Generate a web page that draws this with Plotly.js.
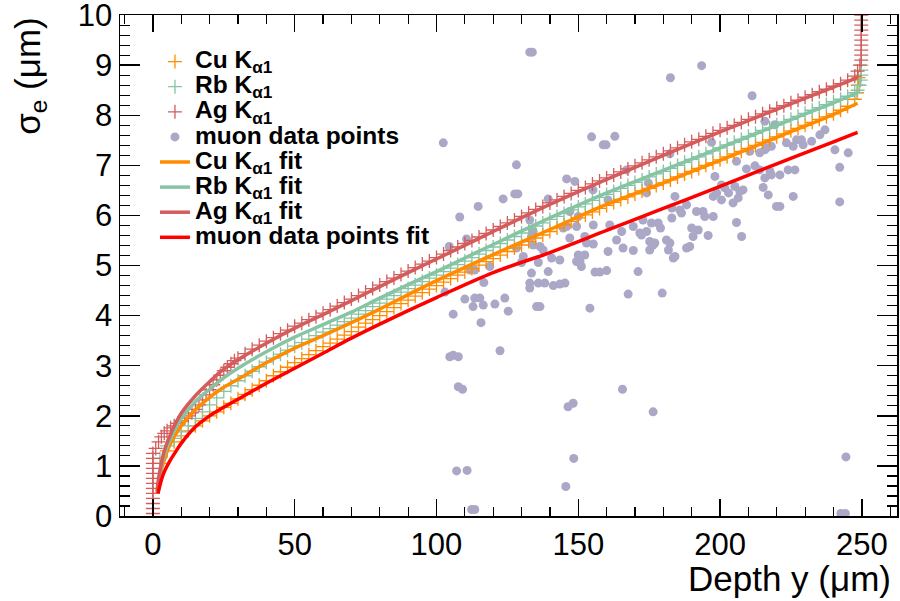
<!DOCTYPE html>
<html>
<head>
<meta charset="utf-8">
<script src="https://cdn.plot.ly/plotly-3.0.1.min.js"></script>
<style>html,body{margin:0;padding:0;background:#fff;}#chart{width:900px;height:601px;}</style>
</head>
<body>
<div id="chart"></div>
<script>
// ---- Simulation markers (depth in µm, sigma_e in µm) ----
const cuX = [2.5,5,7.5,10,12.5,15,17.5,20,22.5,25,27.5,30,32.5,35,37.5,40,42.5,45,47.5,50,52.5,55,57.5,60,62.5,65,67.5,70,72.5,75,77.5,80,82.5,85,87.5,90,92.5,95,97.5,100,102.5,105,107.5,110,112.5,115,117.5,120,122.5,125,127.5,130,132.5,135,137.5,140,142.5,145,147.5,150,152.5,155,157.5,160,162.5,165,167.5,170,172.5,175,177.5,180,182.5,185,187.5,190,192.5,195,197.5,200,202.5,205,207.5,210,212.5,215,217.5,220,222.5,225,227.5,230,232.5,235,237.5,240,242.5,245,247.5,248.3,248.6,248.8];
const cuY = [1.05,1.3,1.48,1.6,1.7,1.8,1.9,2.0,2.08,2.17,2.25,2.34,2.43,2.52,2.61,2.7,2.8,2.88,2.97,3.06,3.14,3.22,3.3,3.38,3.45,3.53,3.61,3.68,3.77,3.85,3.92,4.0,4.08,4.16,4.24,4.31,4.39,4.46,4.53,4.6,4.67,4.74,4.81,4.87,4.94,5.01,5.08,5.14,5.21,5.28,5.35,5.41,5.48,5.55,5.61,5.68,5.75,5.82,5.88,5.95,6.01,6.07,6.14,6.2,6.26,6.32,6.37,6.43,6.49,6.54,6.6,6.65,6.71,6.77,6.83,6.88,6.94,7.0,7.05,7.11,7.17,7.23,7.28,7.34,7.4,7.46,7.51,7.57,7.63,7.69,7.74,7.8,7.86,7.92,7.97,8.03,8.1,8.18,8.32,8.45,8.6,8.75];

const rbX = [2.5,5,7.5,10,12.5,15,17.5,20,22.5,25,27.5,30,32.5,35,37.5,40,42.5,45,47.5,50,52.5,55,57.5,60,62.5,65,67.5,70,72.5,75,77.5,80,82.5,85,87.5,90,92.5,95,97.5,100,102.5,105,107.5,110,112.5,115,117.5,120,122.5,125,127.5,130,132.5,135,137.5,140,142.5,145,147.5,150,152.5,155,157.5,160,162.5,165,167.5,170,172.5,175,177.5,180,182.5,185,187.5,190,192.5,195,197.5,200,202.5,205,207.5,210,212.5,215,217.5,220,222.5,225,227.5,230,232.5,235,237.5,240,242.5,245,247.5,248.5,249.2,249.6,249.8,249.8,249.8];
const rbY = [1.15,1.4,1.55,1.68,1.8,1.95,2.08,2.22,2.36,2.49,2.6,2.7,2.8,2.89,2.98,3.07,3.15,3.23,3.31,3.39,3.46,3.53,3.6,3.67,3.74,3.81,3.88,3.95,4.03,4.1,4.18,4.25,4.33,4.4,4.47,4.54,4.61,4.68,4.75,4.81,4.88,4.95,5.02,5.09,5.16,5.23,5.3,5.37,5.44,5.51,5.58,5.65,5.72,5.79,5.85,5.92,5.98,6.04,6.11,6.17,6.23,6.3,6.36,6.42,6.48,6.54,6.6,6.66,6.71,6.77,6.83,6.88,6.94,7.0,7.06,7.12,7.17,7.23,7.29,7.35,7.41,7.46,7.52,7.58,7.64,7.7,7.75,7.81,7.87,7.92,7.98,8.04,8.1,8.15,8.21,8.27,8.32,8.38,8.45,8.5,8.6,8.7,8.8,8.9,9.0];

const agX = [0,0,0,0,0,0,0,0,0,0,0,0,0,1,2,3,4,5,6.25,7.5,8.75,10,11.25,12.5,13.75,15,16.25,17.5,18.75,20,21.25,22.5,23.75,25,26.25,27.5,28.75,30,32.5,35,37.5,40,42.5,45,47.5,50,52.5,55,57.5,60,62.5,65,67.5,70,72.5,75,77.5,80,82.5,85,87.5,90,92.5,95,97.5,100,102.5,105,107.5,110,112.5,115,117.5,120,122.5,125,127.5,130,132.5,135,137.5,140,142.5,145,147.5,150,152.5,155,157.5,160,162.5,165,167.5,170,172.5,175,177.5,180,182.5,185,187.5,190,192.5,195,197.5,200,202.5,205,207.5,210,212.5,215,217.5,220,222.5,225,227.5,230,232.5,235,237.5,240,242.5,245,247.5,248.5,249.3,249.8,249.8,249.8,249.8,249.8,249.8,249.8,249.8,249.8,249.8];
const agY = [0.05,0.15,0.25,0.35,0.45,0.55,0.65,0.75,0.85,0.95,1.05,1.15,1.25,1.35,1.48,1.58,1.65,1.7,1.76,1.8,1.85,1.9,1.95,2.0,2.06,2.13,2.22,2.32,2.42,2.52,2.62,2.72,2.81,2.9,2.97,3.04,3.1,3.15,3.24,3.33,3.41,3.49,3.56,3.64,3.71,3.79,3.85,3.92,3.98,4.05,4.12,4.19,4.26,4.33,4.4,4.47,4.54,4.61,4.68,4.75,4.82,4.89,4.96,5.03,5.09,5.16,5.23,5.3,5.37,5.44,5.5,5.57,5.64,5.71,5.78,5.85,5.91,5.98,6.05,6.12,6.18,6.25,6.31,6.38,6.44,6.5,6.56,6.63,6.69,6.75,6.81,6.87,6.93,6.99,7.05,7.11,7.17,7.23,7.29,7.35,7.41,7.47,7.52,7.58,7.64,7.7,7.75,7.8,7.86,7.92,7.97,8.03,8.08,8.14,8.19,8.25,8.3,8.36,8.41,8.47,8.52,8.58,8.63,8.7,8.78,8.88,9.0,9.1,9.2,9.3,9.4,9.5,9.6,9.7,9.8,9.9,10.0];

// ---- Fit curves ----
const cuFitX = [1.5,2,3,4,6,8,10,15,20,25,30,40,50,60,70,80,90,100,120,140,160,180,200,220,240,248.5];
const cuFitY = [0.45,0.65,0.92,1.12,1.42,1.63,1.8,2.12,2.37,2.57,2.73,3.06,3.35,3.6,3.86,4.13,4.42,4.7,5.22,5.72,6.22,6.65,7.1,7.56,8.02,8.24];
const rbFitX = [1.5,2,3,4,6,8,10,15,20,25,30,40,50,60,70,80,90,100,120,140,160,180,200,220,240,248.5];
const rbFitY = [0.48,0.7,1.0,1.22,1.52,1.75,1.94,2.28,2.53,2.76,2.95,3.28,3.57,3.82,4.07,4.35,4.62,4.88,5.42,5.95,6.45,6.9,7.35,7.8,8.25,8.45];
const agFitX = [1.5,2,3,4,6,8,10,15,20,25,30,40,50,60,70,80,90,100,120,140,160,180,200,220,240,248.5];
const agFitY = [0.5,0.75,1.05,1.3,1.6,1.85,2.05,2.4,2.68,2.93,3.12,3.45,3.75,4.02,4.3,4.58,4.86,5.13,5.68,6.22,6.72,7.2,7.67,8.12,8.56,8.75];
const muFitX = [1.8,2,3,4,6,8,10,15,20,25,30,40,50,60,70,80,90,100,120,140,160,180,200,220,240,248.5];
const muFitY = [0.45,0.5,0.72,0.88,1.1,1.28,1.45,1.78,2.0,2.17,2.33,2.65,2.95,3.25,3.55,3.83,4.1,4.36,4.86,5.26,5.7,6.14,6.58,7.03,7.47,7.66];

// ---- Muon data points ----
const muX = [102.4,103,104.5,105.9,104.7,105.9,107.7,107.7,109.2,107.1,110.8,112.4,113.5,108.2,110.6,110,111.8,113.5,112.9,113.5,114.7,115.3,115.7,116.5,116.7,118.8,120.6,122.4,123.5,124.1,125.3,127.6,128.7,128.2,128.2,130,130.6,132.9,133.8,132.9,132.9,132.9,133.5,134.1,134.1,133.5,135.3,136.5,135.9,135.9,136.5,137.6,138.2,139.4,139.4,140.6,141.2,143.5,143.5,145.3,144.7,145.9,145.9,145.6,146.4,148.2,147,148.4,148.8,147,149.4,150.6,149.4,150,150,151.1,152.3,152.3,152.9,155.3,154.1,154.7,155.2,155.3,155.9,157.6,158.8,159.8,160,160.5,160.5,161.1,162.9,163.5,165.3,165.8,165.6,167,167.6,169.4,169.4,171.1,171.7,172.3,172.8,174.1,174.1,174.7,175.2,175.2,175.8,176.4,176.4,177,178.2,179,179.6,181.1,181.8,182.3,182.3,182.5,183,183,183.5,184.1,184.1,185.8,186.4,188.2,188.2,189.3,190,190.5,191.7,192.3,193.5,194,194.6,195.8,197,197.6,197.6,198.2,198.8,200.5,200.5,201.7,203,204.6,205.2,205.8,205.8,206.4,207,207.6,208.1,209.3,210.5,211.3,212.3,214,214,215.2,215.8,215.8,215.8,216.4,217,217.6,218.1,218.1,219.3,219.9,221.1,221.1,223.4,224,225.8,225.8,226.4,227,228.7,229.3,232.3,235.2,237,240.5,242.2,242.2,244.4,242.6,244.2,245.2];
const muY = [7.45,4.47,5.38,4.03,3.18,3.21,3.18,2.58,2.53,0.9,0.91,0.13,0.13,5.97,5.53,4.33,4.91,4.91,4.18,4.35,6.18,4.35,3.86,4.21,4.66,4.98,4.23,3.3,6.33,4.35,4.09,6.43,6.43,7.01,5.35,5.06,5.18,9.26,9.26,5.91,4.55,4.65,5.58,5.41,5.68,4.85,4.18,4.18,5.06,4.65,5.38,5.31,4.65,6.33,4.88,5.15,4.6,5.11,4.63,4.65,5.75,6.73,5.78,0.59,2.18,2.25,5.55,1.15,6.68,6.08,5.08,5.08,5.78,5.98,5.21,4.98,5.58,5.21,5.45,5.43,4.15,7.57,6.51,5.81,4.87,4.87,7.41,7.41,4.9,5.28,6.31,5.81,7.58,5.51,5.68,5.35,2.53,6.91,4.43,5.3,5.78,4.88,5.65,5.61,5.91,5.68,6.45,6.65,5.48,5.31,5.85,5.41,2.08,5.45,5.85,5.75,4.45,5.51,5.31,5.45,7.23,8.75,5.95,6.15,5.15,6.38,5.18,6.11,6.05,6.21,5.35,5.38,5.75,5.58,6.08,5.71,8.99,6.08,5.98,5.6,7.46,6.38,5.98,6.78,6.45,6.61,6.31,6.55,6.45,6.25,6.58,7.08,5.86,6.35,6.48,5.58,6.51,6.93,7.28,8.39,6.99,7.25,6.91,6.56,7.88,6.75,7.31,7.35,6.41,6.88,6.81,7.38,7.81,6.18,6.18,6.81,7.45,6.91,6.38,7.38,6.91,7.51,7.51,7.41,7.48,7.61,7.71,7.31,6.96,6.27,1.18,0.05,0.05,7.25];

const seriesNames = [
  'Cu K<sub>α1</sub>', 'Rb K<sub>α1</sub>', 'Ag K<sub>α1</sub>', 'muon data points',
  'Cu K<sub>α1</sub> fit', 'Rb K<sub>α1</sub> fit', 'Ag K<sub>α1</sub> fit', 'muon data points fit'
];
const colors = {cu:'#ff8c00', rb:'#86c4a3', ag:'#d45c5c', mu:'#aaa8c6', muFit:'#ff0000'};
const big = s => '<span style="font-size:24.5px">' + s + '</span>';

const traces = [
  {x: muX, y: muY, mode:'markers', name: big(seriesNames[3]), legendrank: 4,
   marker:{size:9, color:colors.mu}},
  {x: cuX, y: cuY, mode:'markers', name: big(seriesNames[0]), legendrank: 1,
   marker:{symbol:'cross-thin-open', size:10, color:colors.cu, line:{width:1.3}}},
  {x: rbX, y: rbY, mode:'markers', name: big(seriesNames[1]), legendrank: 2,
   marker:{symbol:'cross-thin-open', size:10, color:colors.rb, line:{width:1.3}}},
  {x: agX, y: agY, mode:'markers', name: big(seriesNames[2]), legendrank: 3,
   marker:{symbol:'cross-thin-open', size:10, color:colors.ag, line:{width:1.3}}},
  {x: cuFitX, y: cuFitY, mode:'lines', name: big(seriesNames[4]), legendrank: 5,
   line:{color:colors.cu, width:3.5, shape:'spline'}},
  {x: rbFitX, y: rbFitY, mode:'lines', name: big(seriesNames[5]), legendrank: 6,
   line:{color:colors.rb, width:3.5, shape:'spline'}},
  {x: agFitX, y: agFitY, mode:'lines', name: big(seriesNames[6]), legendrank: 7,
   line:{color:colors.ag, width:3.5, shape:'spline'}},
  {x: muFitX, y: muFitY, mode:'lines', name: big(seriesNames[7]), legendrank: 8,
   line:{color:colors.muFit, width:3.5, shape:'spline'}}
];

const axisCommon = {
  showgrid:false, zeroline:false, showline:true, linecolor:'#000', linewidth:1.5,
  mirror:'allticks', ticks:'inside', tickcolor:'#000', tickwidth:1.5,
  ticklabeloverflow:'allow',
  tickfont:{family:'Liberation Sans, Arial, sans-serif', size:31, color:'#000'}
};

const layout = {
  width:900, height:601,
  margin:{l:120, r:3, t:15, b:85},
  paper_bgcolor:'#fff', plot_bgcolor:'#fff',
  showlegend:true,
  legend:{x:0.045, y:0.942, xanchor:'left', yanchor:'top', bgcolor:'rgba(0,0,0,0)',
          traceorder:'normal',
          font:{family:'Liberation Sans, Arial, sans-serif', size:17, weight:'bold', color:'#000'}},
  xaxis: Object.assign({}, axisCommon, {
    range:[-11.6, 262.4], tick0:0, dtick:50, ticklen:17,
    minor:{dtick:10, ticklen:9, ticks:'inside', tickcolor:'#000', tickwidth:1.2}
  }),
  yaxis: Object.assign({}, axisCommon, {
    range:[0, 10.002], tick0:0, dtick:1, ticklen:20,
    minor:{dtick:0.2, ticklen:10, ticks:'inside', tickcolor:'#000', tickwidth:1.2}
  }),
  annotations:[
    {text:'Depth y (μm)', xref:'paper', yref:'paper', x:0.995, y:-0.124,
     xanchor:'right', yanchor:'middle', showarrow:false,
     font:{family:'Liberation Sans, Arial, sans-serif', size:35, color:'#000'}},
    {text:'σ<sub>e</sub> (μm)', xref:'paper', yref:'paper', x:-0.116, y:1.0,
     xanchor:'center', yanchor:'top', textangle:-90, showarrow:false,
     font:{family:'Liberation Sans, Arial, sans-serif', size:35, color:'#000'}}
  ]
};

Plotly.newPlot('chart', traces, layout, {staticPlot:true, displayModeBar:false});
</script>
</body>
</html>
